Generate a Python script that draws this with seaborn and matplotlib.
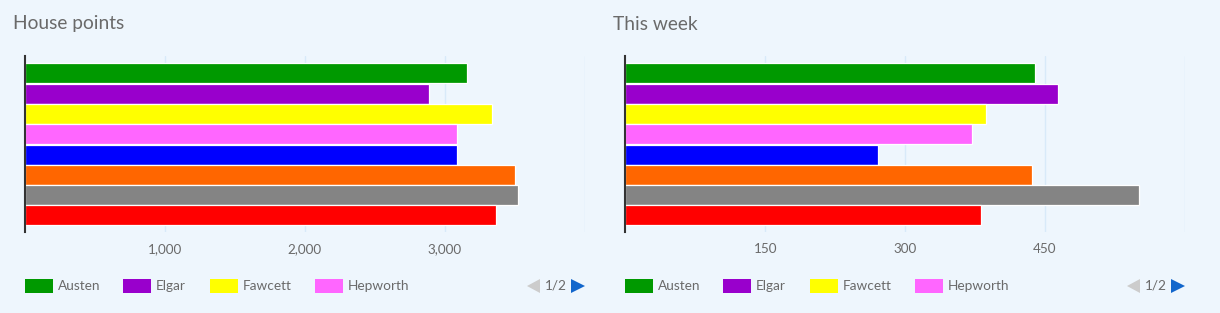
import matplotlib
matplotlib.use("Agg")
import matplotlib.pyplot as plt
import seaborn as sns
import pandas as pd
from matplotlib.patches import Rectangle, Polygon

# ---- data ----
houses = ["Austen", "Elgar", "Fawcett", "Hepworth", "House 5", "House 6", "House 7", "House 8"]
colors = ["#009900", "#9900CC", "#FFFF00", "#FF66FF", "#0000FF", "#FF6600", "#848484", "#FF0000"]
house_points = [3160, 2890, 3335, 3090, 3090, 3505, 3527, 3370]
this_week = [440, 464, 387, 372, 271, 436, 551, 382]
titles = ["House points", "This week"]
xticks_left = [1000, 2000, 3000, 4000]
xticklabels_left = ["1,000", "2,000", "3,000", ""]
xticks_right = [150, 300, 450, 600]
xticklabels_right = ["150", "300", "450", ""]
legend_shown = houses[:4]

BG = "#EEF6FD"
TXT = "#6A6A6A"
GRID = "#D8EAF9"

sns.set_theme(style="white")
plt.rcParams["font.family"] = ["Lato", "DejaVu Sans"]

fig = plt.figure(figsize=(12.2, 3.13), dpi=100)
fig.patch.set_facecolor(BG)

W, H = 1220, 313
def fx(x): return x / W
def fy(y): return 1 - y / H

panels = [
    (25.3, 584.5, house_points, (0, 4000), xticks_left, xticklabels_left, titles[0], 0),
    (625.5, 1184.5, this_week, (0, 600), xticks_right, xticklabels_right, titles[1], 600),
]

pal = dict(zip(houses, colors))

for (x0, x1, vals, xlim, ticks, tlabels, title, off) in panels:
    ax = fig.add_axes([fx(x0), fy(232), fx(x1 - x0), (232 - 56) / H])
    ax.set_facecolor(BG)
    df = pd.DataFrame({"house": houses, "value": vals})
    sns.barplot(data=df, y="house", x="value", hue="house", palette=pal,
                orient="h", width=0.99, ax=ax, legend=False, saturation=1,
                edgecolor="white", linewidth=0.9, zorder=3)
    ax.set_xlim(*xlim)
    ax.set_ylim(7.82, -0.86)
    ax.set_xticks(ticks)
    ax.set_xticklabels(tlabels)
    ax.set_yticks([])
    ax.set_xlabel("")
    ax.set_ylabel("")
    ax.grid(axis="x", color=GRID, linewidth=1, zorder=0)
    ax.set_axisbelow(True)
    for s in ["top", "right", "bottom"]:
        ax.spines[s].set_visible(False)
    ax.spines["left"].set_color("#333333")
    ax.spines["left"].set_linewidth(1.5)
    ax.spines["left"].set_zorder(5)
    ax.tick_params(axis="x", length=0, pad=8, labelsize=9.7, labelcolor=TXT)

    # title
    fig.text(fx(13 + off), fy(24), title, fontsize=13.8, color=TXT,
             ha="left", va="center")

    # legend (page 1 of 2)
    sq_x = [25, 123, 210, 315]
    for i, name in enumerate(legend_shown):
        sx = sq_x[i] + off
        fig.patches.append(Rectangle((fx(sx), fy(293)), fx(28), 14 / H,
                                     transform=fig.transFigure, facecolor=colors[i],
                                     edgecolor="none"))
        fig.text(fx(sx + 33), fy(286), name, fontsize=9.8, color=TXT,
                 ha="left", va="center")
    # pager
    fig.patches.append(Polygon([(fx(527 + off), fy(286)), (fx(540 + off), fy(279)),
                                (fx(540 + off), fy(293))], closed=True,
                               transform=fig.transFigure, facecolor="#CCCCCC",
                               edgecolor="none"))
    fig.text(fx(556 + off), fy(286), "1/2", fontsize=9.8, color=TXT,
             ha="center", va="center")
    fig.patches.append(Polygon([(fx(571 + off), fy(279)), (fx(585 + off), fy(286)),
                                (fx(571 + off), fy(293))], closed=True,
                               transform=fig.transFigure, facecolor="#1166CC",
                               edgecolor="none"))

fig.savefig("out.png", dpi=100, facecolor=BG)
